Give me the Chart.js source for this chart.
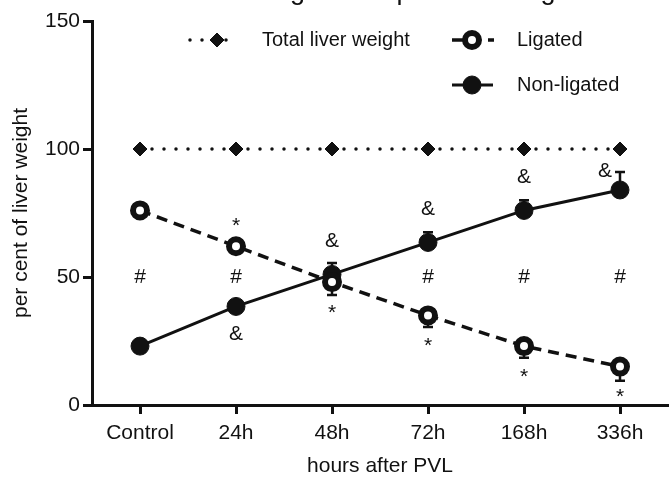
<!DOCTYPE html>
<html>
<head>
<meta charset="utf-8">
<title>Liver weight</title>
<script src="https://cdn.jsdelivr.net/npm/chart.js@4.4.8/dist/chart.umd.min.js"></script>
<style>
  html, body { margin: 0; padding: 0; background: #fff; }
  #wrap { width: 669px; height: 481px; }
</style>
</head>
<body>
<div id="wrap"><canvas id="liverChart" width="669" height="481"></canvas></div>
<script>
// data
const categories = ['Control', '24h', '48h', '72h', '168h', '336h'];
const totalLiver = [100, 100, 100, 100, 100, 100];
const ligated = [76, 62, 48, 35, 23, 15];
const ligatedSem = [1, 1.5, 5, 4.5, 4.5, 5.5];
const nonLigated = [23, 38.5, 51, 63.5, 76, 84];
const nonLigatedSem = [1, 1.5, 4.5, 4, 4, 7];
// significance marks per category
const starMarks = ['', 'above', 'below', 'below', 'below', 'below'];   // * on ligated
const ampMarks = ['', 'below', 'above', 'above', 'above', 'above'];    // & on non-ligated
const hashMarks = ['#', '#', '', '#', '#', '#'];
const hashLevel = 50;

const FONT = "'Liberation Sans', Arial, Helvetica, sans-serif";
const INK = '#111';

// stretch the plot area to the right edge like the original figure
const plotArea = {
  id: 'plotArea',
  afterLayout(chart) {
    const x = chart.scales.x;
    const right = chart.width - 1;
    chart.chartArea.right = right;
    chart.chartArea.width = right - chart.chartArea.left;
    x.right = right;
    x.width = right - x.left;
    x.configure();
  }
};

const errorBars = {
  id: 'errorBars',
  beforeDatasetsDraw(chart) {
    const ctx = chart.ctx;
    const y = chart.scales.y;
    chart.data.datasets.forEach((ds, di) => {
      if (!ds.sem) return;
      const meta = chart.getDatasetMeta(di);
      ctx.save();
      ctx.strokeStyle = INK;
      ctx.lineWidth = 2.5;
      meta.data.forEach((pt, i) => {
        const end = y.getPixelForValue(ds.data[i] + ds.errDir * ds.sem[i]);
        ctx.beginPath();
        ctx.moveTo(pt.x, pt.y);
        ctx.lineTo(pt.x, end);
        ctx.moveTo(pt.x - 5, end);
        ctx.lineTo(pt.x + 5, end);
        ctx.stroke();
      });
      ctx.restore();
    });
  }
};

const marks = {
  id: 'marks',
  afterDatasetsDraw(chart) {
    const ctx = chart.ctx;
    const xs = chart.scales.x, ys = chart.scales.y;
    const lig = chart.getDatasetMeta(1).data;
    const non = chart.getDatasetMeta(2).data;
    ctx.save();
    ctx.fillStyle = INK;
    ctx.font = '21px ' + FONT;
    ctx.textAlign = 'center';
    ctx.textBaseline = 'middle';
    categories.forEach((c, i) => {
      const x = xs.getPixelForValue(i);
      if (hashMarks[i]) ctx.fillText(hashMarks[i], x, ys.getPixelForValue(hashLevel));
      if (starMarks[i]) {
        const dy = starMarks[i] === 'above' ? -20 : 31;
        ctx.fillText('*', x, lig[i].y + dy);
      }
      if (ampMarks[i]) {
        let dx = 0, dy = ampMarks[i] === 'above' ? -33 : 28;
        if (i === categories.length - 1) { dx = -15; dy = -19; }
        ctx.fillText('&', x + dx, non[i].y + dy);
      }
    });
    ctx.restore();
  }
};

const legendAndTitle = {
  id: 'legendAndTitle',
  afterDraw(chart) {
    const ctx = chart.ctx;
    const H = Chart.helpers;
    ctx.save();
    // title, cut off by the top edge as in the original
    ctx.fillStyle = INK;
    ctx.font = '27px ' + FONT;
    ctx.textAlign = 'center';
    ctx.textBaseline = 'alphabetic';
    ctx.fillText('Lobe weight after portal vein ligation', 398, -1);

    const items = [
      { ds: 0, x0: 190, x1: 236, mx: 217, y: 40, tx: 262 },
      { ds: 1, x0: 452, x1: 494, mx: 472, y: 40, tx: 517 },
      { ds: 2, x0: 452, x1: 493, mx: 472, y: 85, tx: 517 }
    ];
    items.forEach(it => {
      const ds = chart.data.datasets[it.ds];
      ctx.save();
      ctx.strokeStyle = INK;
      ctx.lineWidth = ds.borderWidth;
      ctx.lineCap = ds.borderCapStyle || 'butt';
      ctx.setLineDash(ds.borderDash || []);
      ctx.beginPath();
      ctx.moveTo(it.x0, it.y);
      ctx.lineTo(it.x1, it.y);
      ctx.stroke();
      ctx.restore();
      ctx.save();
      ctx.fillStyle = ds.pointBackgroundColor;
      ctx.strokeStyle = INK;
      ctx.lineWidth = ds.pointBorderWidth;
      H.drawPoint(ctx, { pointStyle: ds.pointStyle, radius: ds.pointRadius, rotation: 0, borderWidth: ds.pointBorderWidth }, it.mx, it.y);
      ctx.restore();
      ctx.fillStyle = INK;
      ctx.font = '20px ' + FONT;
      ctx.textAlign = 'left';
      ctx.textBaseline = 'middle';
      ctx.fillText(ds.label, it.tx, it.y);
    });
    ctx.restore();
  }
};

const axisStyle = {
  border: { display: true, width: 3, color: INK },
  grid: { display: true, drawOnChartArea: false, drawTicks: true, tickLength: 9, tickWidth: 3, tickColor: INK }
};

new Chart(document.getElementById('liverChart'), {
  type: 'line',
  data: {
    labels: categories,
    datasets: [
      {
        label: 'Total liver weight',
        data: totalLiver,
        borderColor: INK,
        borderWidth: 3.5,
        borderDash: [0, 12],
        borderCapStyle: 'round',
        pointStyle: 'rectRot',
        pointRadius: 7,
        pointBorderWidth: 1,
        pointBackgroundColor: INK,
        pointBorderColor: INK
      },
      {
        label: 'Ligated',
        data: ligated,
        sem: ligatedSem,
        errDir: -1,
        borderColor: INK,
        borderWidth: 3.5,
        borderDash: [11, 7],
        pointStyle: 'circle',
        pointRadius: 7,
        pointBorderWidth: 6,
        pointBackgroundColor: '#fff',
        pointBorderColor: INK
      },
      {
        label: 'Non-ligated',
        data: nonLigated,
        sem: nonLigatedSem,
        errDir: 1,
        borderColor: INK,
        borderWidth: 3,
        pointStyle: 'circle',
        pointRadius: 9,
        pointBorderWidth: 1,
        pointBackgroundColor: INK,
        pointBorderColor: INK
      }
    ]
  },
  options: {
    responsive: false,
    animation: false,
    events: [],
    layout: { padding: { top: 21, right: 1, left: 0, bottom: 0 } },
    plugins: { legend: { display: false }, tooltip: { enabled: false }, title: { display: false } },
    scales: {
      x: {
        type: 'category',
        offset: true,
        ...axisStyle,
        ticks: { color: INK, font: { family: FONT, size: 21 }, padding: 7 },
        title: { display: true, text: 'hours after PVL', color: INK, font: { family: FONT, size: 21 }, padding: { top: 0, bottom: 2 } },
        afterFit(s) { s.height = 76; }
      },
      y: {
        min: 0,
        max: 150,
        ...axisStyle,
        ticks: { stepSize: 50, color: INK, font: { family: FONT, size: 21 }, padding: 3 },
        title: { display: true, text: 'per cent of liver weight', color: INK, font: { family: FONT, size: 21 }, padding: { top: 9, bottom: 0 } },
        afterFit(s) { s.width = 92; }
      }
    }
  },
  plugins: [plotArea, errorBars, marks, legendAndTitle]
});
</script>
</body>
</html>
